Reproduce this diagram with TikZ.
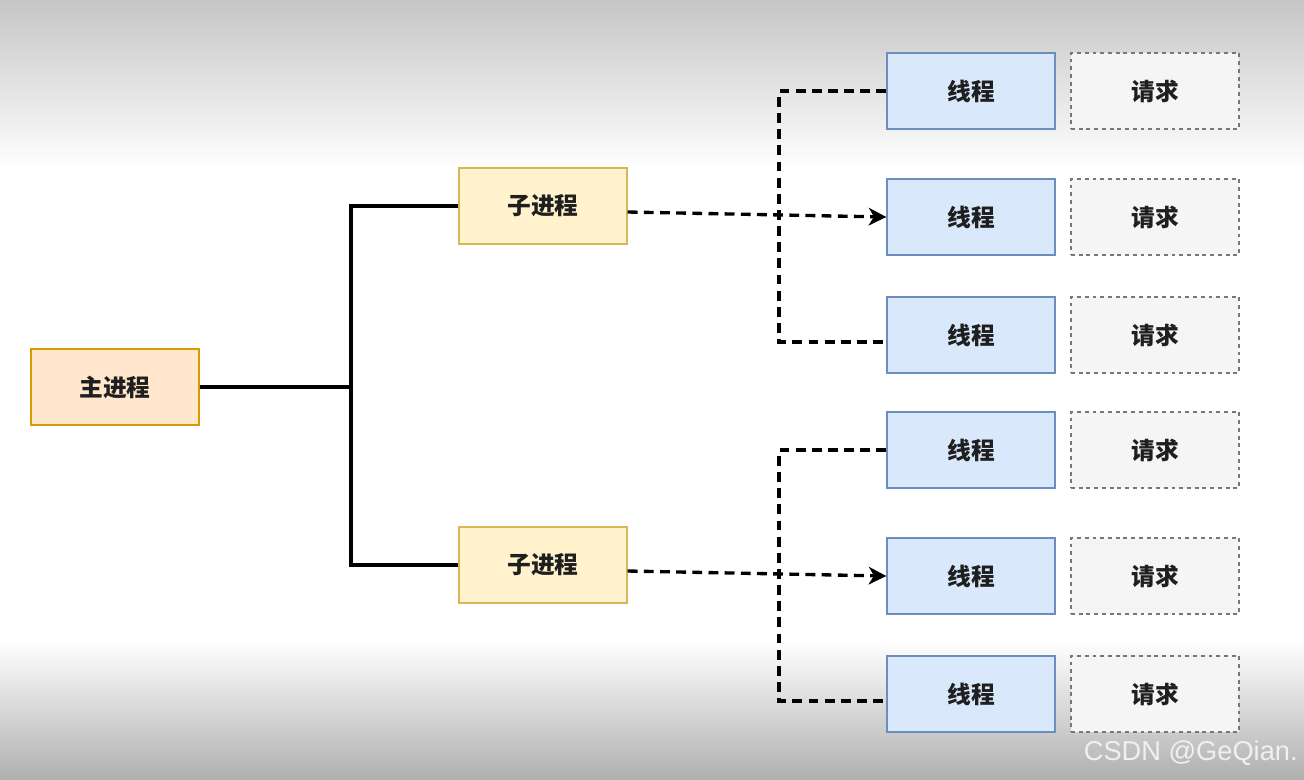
\documentclass[tikz,border=0pt]{standalone}
\usepackage{fontspec}
\setmainfont{Noto Sans CJK SC}
\newfontfamily\wmfont{Liberation Sans}
\usetikzlibrary{arrows.meta}
\definecolor{mainfill}{HTML}{FFE6CC}
\definecolor{maindraw}{HTML}{D79B00}
\definecolor{subfill}{HTML}{FFF2CC}
\definecolor{subdraw}{HTML}{D6B656}
\definecolor{thrfill}{HTML}{DAE8FC}
\definecolor{thrdraw}{HTML}{6C8EBF}
\definecolor{reqfill}{HTML}{F5F5F5}
\definecolor{reqdraw}{HTML}{777777}
\tikzset{
  box/.style={minimum width=3.36cm,minimum height=1.52cm,line width=0.8pt,inner sep=0pt,
    text=black!88,font=\fontsize{13.5pt}{16pt}\selectfont\bfseries},
  mainp/.style={box,fill=mainfill,draw=maindraw},
  subp/.style={box,fill=subfill,draw=subdraw},
  thr/.style={box,fill=thrfill,draw=thrdraw},
  req/.style={box,fill=reqfill,draw=reqdraw,dash pattern=on 2.2pt off 2.2pt},
  conn/.style={line width=1.9pt,black},
  dline/.style={line width=1.9pt,black,dash pattern=on 5.6pt off 3.6pt},
  wm/.style={font=\wmfont\fontsize{15.5pt}{18pt}\selectfont,text=white!88!gray,inner sep=0pt}
}

\begin{document}
\begin{tikzpicture}[x=0.02cm,y=-0.02cm]
\useasboundingbox (0,0) rectangle (1304,779);
% background of the screenshot
\shade[top color=gray!45,bottom color=white] (0,0) rectangle (1304,170);
\fill[white] (0,170) rectangle (1304,640);
\shade[top color=white,bottom color=gray!62] (0,640) rectangle (1304,779);

\node[mainp] (m) at (115,387) {主进程};
\node[subp] (s1) at (543,206) {子进程};
\node[subp] (s2) at (543,565) {子进程};
\foreach \y [count=\i] in {91,217,335,450,576,694} {
  \node[thr] (t\i) at (971,\y) {线程};
  \node[req] (r\i) at (1155,\y) {请求};
}
\coordinate (j) at (351,387);
\coordinate (c1) at (779,217);
\coordinate (c2) at (779,576);

\draw[conn] (m) -- (j);
\draw[conn] (s1) -| (j) |- (s2);
\draw[dline] (t1) -| (c1) |- ([yshift=-0.14cm]t3.west);
\draw[dline] (t4) -| (c2) |- ([yshift=-0.14cm]t6.west);
\path[dline] ([yshift=-0.12cm]s1.east) edge[-{Stealth[length=10pt,width=10pt,inset=3pt]}] (t2.west);
\path[dline] ([yshift=-0.12cm]s2.east) edge[-{Stealth[length=10pt,width=10pt,inset=3pt]}] (t5.west);

\node[wm,anchor=east] (w) at (1298,753) {CSDN @GeQian.};
\end{tikzpicture}
\end{document}
